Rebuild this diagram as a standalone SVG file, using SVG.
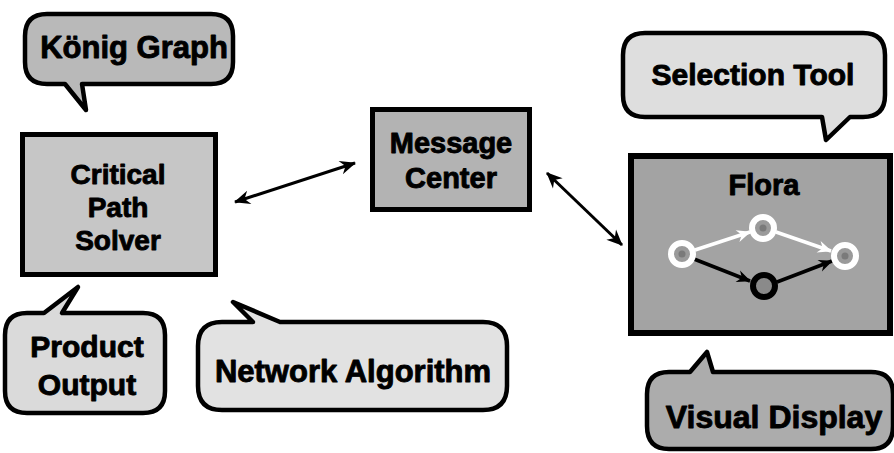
<svg xmlns="http://www.w3.org/2000/svg" width="894" height="453" viewBox="0 0 894 453">
  <style>
    .bubble { stroke: #000; stroke-width: 4.5; stroke-linejoin: round; }
    .box { stroke: #000; stroke-width: 5; }
    .lbl { font-family: "Liberation Sans", Arial, Helvetica, sans-serif; font-weight: bold; fill: #000; text-anchor: middle; stroke: #000; stroke-width: 0.9; stroke-linejoin: round; }
    .conn { stroke: #000; stroke-width: 3; fill: none; }
    .wedge { stroke: #fff; stroke-width: 3.5; fill: none; }
    .bedge { stroke: #000; stroke-width: 3.5; fill: none; }
    .wnode { fill: #9a9a9a; stroke: #fff; stroke-width: 6; }
    .dot { fill: #7a7a7a; }
  </style>
  <defs>
    <marker id="arr" viewBox="-16 -8 18 16" refX="0" refY="0" markerWidth="18" markerHeight="16" markerUnits="userSpaceOnUse" orient="auto-start-reverse">
      <path d="M1,0 L-15,-7 L-10,0 L-15,7 Z" fill="#000"/>
    </marker>
    <marker id="warr" viewBox="-16 -8 18 16" refX="0" refY="0" markerWidth="16" markerHeight="14" markerUnits="userSpaceOnUse" orient="auto">
      <path d="M1,0 L-15,-7 L-10,0 L-15,7 Z" fill="#fff"/>
    </marker>
    <marker id="barr" viewBox="-16 -8 18 16" refX="0" refY="0" markerWidth="16" markerHeight="14" markerUnits="userSpaceOnUse" orient="auto">
      <path d="M1,0 L-15,-7 L-10,0 L-15,7 Z" fill="#000"/>
    </marker>
  </defs>

  <rect width="894" height="453" fill="#fff"/>

  <g id="konig-graph">
    <path class="bubble" fill="#b9b9b9" d="M47,14 H211 Q233,14 233,36 V62 Q233,84 211,84 H82 L86,110 L65,84 H47 Q25,84 25,62 V36 Q25,14 47,14 Z"/>
    <text class="lbl" x="134" y="58" font-size="31">König Graph</text>
  </g>

  <g id="critical-path-solver">
    <rect class="box" x="22.5" y="134.5" width="193" height="140" fill="#c6c6c6"/>
    <text class="lbl" x="118" y="184" font-size="28">Critical</text>
    <text class="lbl" x="118" y="217" font-size="28">Path</text>
    <text class="lbl" x="118" y="250" font-size="28">Solver</text>
  </g>

  <g id="message-center">
    <rect class="box" x="372.5" y="109.5" width="157" height="100" fill="#b3b3b3"/>
    <text class="lbl" x="451" y="153" font-size="29">Message</text>
    <text class="lbl" x="451" y="188" font-size="29">Center</text>
  </g>

  <g id="selection-tool">
    <path class="bubble" fill="#dedede" d="M645,33 H863 Q885,33 885,55 V95 Q885,117 863,117 H850 L826,140 L822,117 H645 Q623,117 623,95 V55 Q623,33 645,33 Z"/>
    <text class="lbl" x="753" y="85" font-size="30">Selection Tool</text>
  </g>

  <g id="flora">
    <rect x="631" y="156" width="259" height="177" fill="#a3a3a3" stroke="#000" stroke-width="6"/>
    <text class="lbl" x="764" y="195" font-size="29">Flora</text>
    <line class="wedge" x1="695" y1="250" x2="750" y2="232" marker-end="url(#warr)"/>
    <line class="wedge" x1="776" y1="232" x2="831" y2="251" marker-end="url(#warr)"/>
    <line class="bedge" x1="694" y1="259" x2="750" y2="281" marker-end="url(#barr)"/>
    <line class="bedge" x1="777" y1="282" x2="832" y2="261" marker-end="url(#barr)"/>
    <circle class="wnode" cx="682" cy="254" r="11"/>
    <circle class="dot" cx="682" cy="254" r="3.5"/>
    <circle class="wnode" cx="763" cy="228" r="11"/>
    <circle class="dot" cx="763" cy="228" r="3.5"/>
    <circle class="wnode" cx="845" cy="256" r="11"/>
    <circle class="dot" cx="845" cy="256" r="3.5"/>
    <circle cx="764" cy="286" r="11" fill="#8a8a8a" stroke="#000" stroke-width="6"/>
  </g>

  <g id="product-output">
    <path class="bubble" fill="#dadada" d="M27,313 H44 L78,287 L62,313 H143 Q165,313 165,335 V391 Q165,413 143,413 H27 Q5,413 5,391 V335 Q5,313 27,313 Z"/>
    <text class="lbl" x="87" y="357" font-size="30">Product</text>
    <text class="lbl" x="87" y="395" font-size="30">Output</text>
  </g>

  <g id="network-algorithm">
    <path class="bubble" fill="#e2e2e2" d="M222,322 H253 L233,302 L280,322 H483 Q507,322 507,346 V386 Q507,410 483,410 H222 Q198,410 198,386 V346 Q198,322 222,322 Z"/>
    <text class="lbl" x="353" y="382" font-size="31">Network Algorithm</text>
  </g>

  <g id="visual-display">
    <path class="bubble" fill="#acacac" d="M669,372 H690 L707,352 L713,372 H871 Q893,372 893,394 V426 Q893,449 871,449 H669 Q647,449 647,426 V394 Q647,372 669,372 Z"/>
    <text class="lbl" x="774" y="428" font-size="32">Visual Display</text>
  </g>

  <g id="connectors">
    <line class="conn" x1="235" y1="202" x2="355" y2="163" marker-start="url(#arr)" marker-end="url(#arr)"/>
    <line class="conn" x1="547" y1="173" x2="622" y2="245" marker-start="url(#arr)" marker-end="url(#arr)"/>
  </g>
</svg>
